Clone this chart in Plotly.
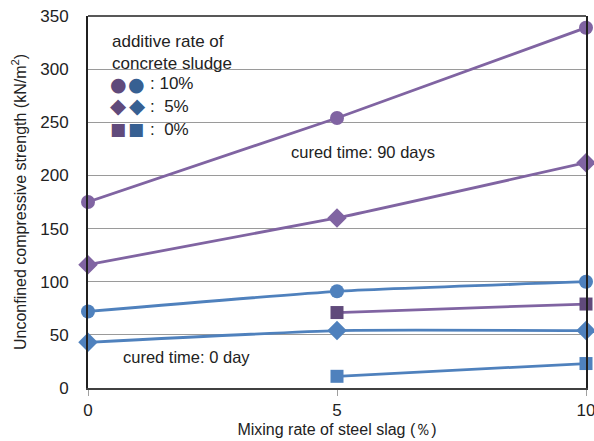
import plotly.graph_objects as go

# Mixing rate of steel slag (%)
slag = [0, 5, 10]
slag_part = [5, 10]

# Unconfined compressive strength (kN/m2), cured 90 days
d90_10 = [175, 254, 339]
d90_5 = [116, 160, 212]
d90_0 = [71, 79]

# Unconfined compressive strength (kN/m2), cured 0 day
d0_10 = [72, 91, 100]
d0_5 = [43, 54, 54]
d0_0 = [11, 23]

PURPLE = "#8064A2"
PURPLE_DK = "#604A7B"
BLUE = "#4F81BD"
BLUE_DK = "#376092"
FONT = "Liberation Sans, Arial, sans-serif"
GLYPH_FONT = "DejaVu Sans"

fig = go.Figure()

series = [
    (slag, d90_10, PURPLE, PURPLE, "circle", 14),
    (slag, d90_5, PURPLE, PURPLE, "diamond", 15),
    (slag_part, d90_0, PURPLE, PURPLE_DK, "square", 13),
    (slag, d0_10, BLUE, BLUE, "circle", 14),
    (slag, d0_5, BLUE, BLUE, "diamond", 15),
    (slag_part, d0_0, BLUE, BLUE, "square", 13),
]
for xs, ys, lc, mc, sym, sz in series:
    fig.add_trace(go.Scatter(
        x=xs, y=ys, mode="lines+markers",
        line=dict(color=lc, width=2.8, shape="spline", smoothing=0.4),
        marker=dict(symbol=sym, size=sz, color=mc),
        showlegend=False, cliponaxis=False,
    ))

fig.update_xaxes(
    range=[0, 10], tickvals=[0, 5, 10], ticktext=["0", "5", "10"],
    showgrid=False, zeroline=False, automargin=False,
    ticklabeloverflow="allow",
    showline=True, linecolor="#404040", linewidth=2,
    ticks="outside", ticklen=6, tickcolor="#A0A0A0", tickwidth=1,
    tickfont=dict(family=FONT, size=17, color="#222"),
    title=dict(text="Mixing rate of steel slag (％)", standoff=4,
               font=dict(family=FONT, size=16, color="#222")),
)
fig.update_yaxes(
    range=[0, 350], dtick=50, automargin=False,
    ticklabeloverflow="allow",
    showgrid=True, gridcolor="#9A9A9A", gridwidth=1, zeroline=False,
    showline=True, linecolor="#202020", linewidth=2, mirror=True,
    ticks="", ticklabelstandoff=14,
    tickfont=dict(family=FONT, size=17, color="#222"),
    title=dict(text="Unconfined compressive strength (kN/m<sup>2</sup>)", standoff=10,
               font=dict(family=FONT, size=16, color="#222")),
)

# top border of the plot frame
fig.add_shape(type="line", xref="paper", yref="paper", x0=0, x1=1, y0=1, y1=1,
              line=dict(color="#202020", width=1.5))


def px(x, y):
    return (x - 88) / 498, (388 - y) / 372


def note(x, y, text, size=17, color="#222", family=FONT):
    xp, yp = px(x, y)
    fig.add_annotation(xref="paper", yref="paper", x=xp, y=yp, text=text,
                       showarrow=False, xanchor="left", yanchor="middle",
                       font=dict(family=family, size=size, color=color))


note(110, 41, "additive rate of")
note(110, 63, "concrete sludge")
rows = [(84, "●", ": 10%", 19, 126), (106, "◆", ":  5%", 21, 127), (129, "■", ":  0%", 17, 126)]
for y, g, label, gs, x2 in rows:
    note(108, y, g, size=gs, color=PURPLE_DK, family=GLYPH_FONT)
    note(x2, y, g, size=gs, color=BLUE_DK, family=GLYPH_FONT)
    note(148, y, label)

note(289, 152, "cured time: 90 days", size=16.5)
note(121, 357, "cured time: 0 day", size=16.5)

fig.update_layout(
    width=594, height=441,
    margin=dict(l=88, r=8, t=16, b=53),
    paper_bgcolor="white", plot_bgcolor="white",
)

fig.write_html("out.html")
